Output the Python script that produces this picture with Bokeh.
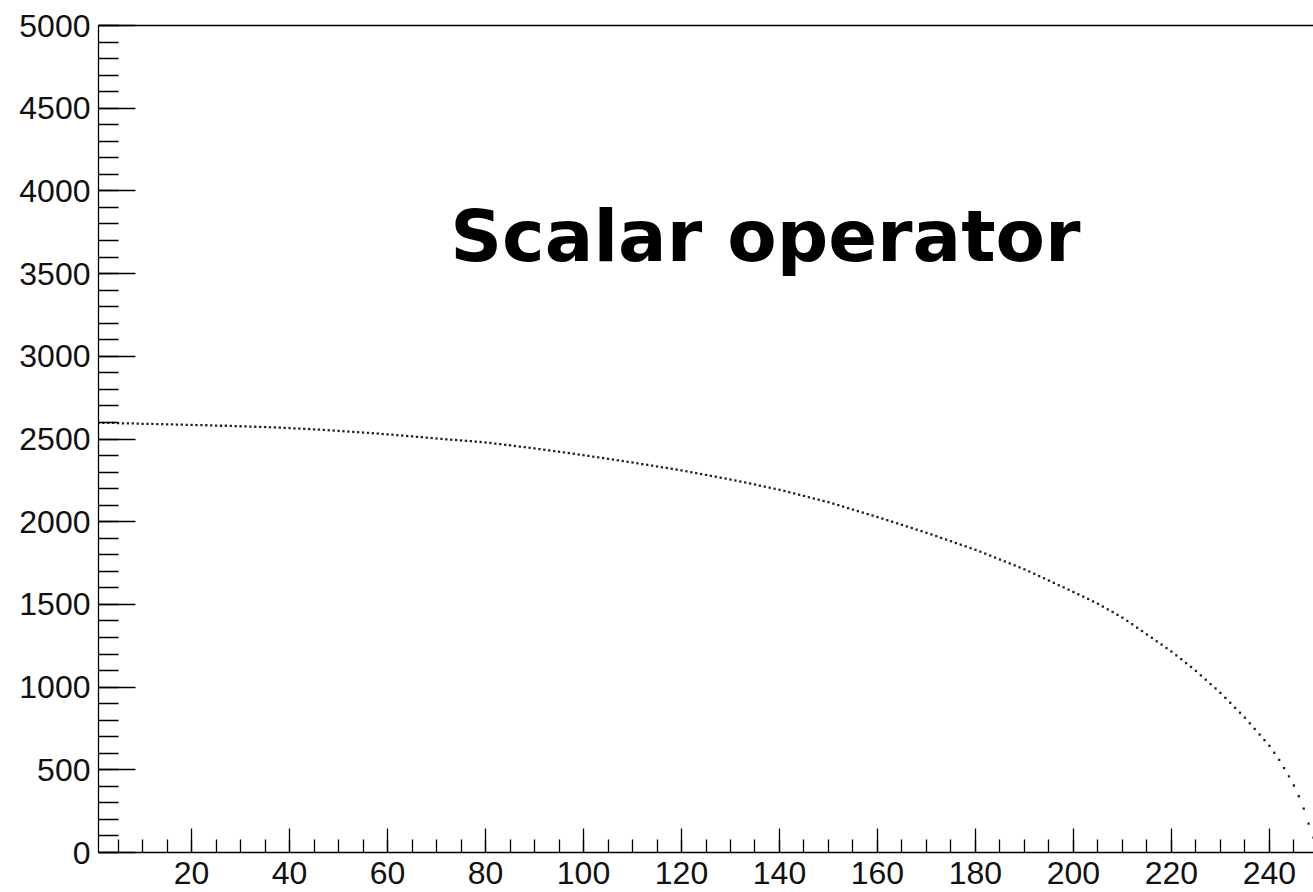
from bokeh.plotting import figure
from bokeh.models import Range1d, SingleIntervalTicker, LinearAxis, FixedTicker, Label
from bokeh.embed import file_html
from bokeh.resources import INLINE

# ---- data ----
bins = list(range(1, 250))
counts = [
    2598, 2598, 2597, 2597, 2596, 2595, 2595, 2594, 2593, 2592,
    2592, 2591, 2590, 2590, 2589, 2588, 2587, 2587, 2586, 2585,
    2584, 2584, 2583, 2582, 2581, 2580, 2580, 2579, 2578, 2577,
    2576, 2575, 2574, 2573, 2572, 2571, 2570, 2569, 2567, 2566,
    2564, 2563, 2561, 2560, 2558, 2557, 2555, 2553, 2551, 2549,
    2547, 2545, 2543, 2541, 2539, 2537, 2535, 2533, 2530, 2528,
    2526, 2523, 2521, 2518, 2516, 2513, 2511, 2508, 2506, 2503,
    2501, 2498, 2496, 2494, 2491, 2489, 2487, 2484, 2482, 2479,
    2476, 2472, 2469, 2465, 2462, 2458, 2454, 2451, 2447, 2443,
    2439, 2435, 2431, 2427, 2423, 2419, 2415, 2411, 2406, 2402,
    2398, 2393, 2389, 2385, 2380, 2376, 2371, 2367, 2362, 2358,
    2353, 2348, 2344, 2339, 2334, 2329, 2325, 2320, 2315, 2310,
    2305, 2299, 2294, 2288, 2283, 2277, 2272, 2266, 2261, 2255,
    2249, 2243, 2237, 2231, 2225, 2218, 2212, 2206, 2199, 2193,
    2186, 2178, 2171, 2163, 2156, 2148, 2140, 2133, 2125, 2118,
    2109, 2100, 2091, 2082, 2073, 2064, 2055, 2046, 2037, 2028,
    2019, 2009, 2000, 1990, 1981, 1971, 1962, 1952, 1943, 1933,
    1923, 1913, 1902, 1892, 1882, 1871, 1861, 1851, 1840, 1830,
    1819, 1807, 1795, 1783, 1771, 1760, 1748, 1736, 1724, 1712,
    1699, 1685, 1671, 1658, 1644, 1630, 1616, 1603, 1589, 1575,
    1561, 1547, 1533, 1518, 1504, 1487, 1470, 1454, 1437, 1420,
    1400, 1380, 1359, 1339, 1318, 1298, 1277, 1257, 1236, 1215,
    1192, 1169, 1145, 1122, 1098, 1071, 1045, 1018, 992, 965,
    935, 905, 875, 845, 815, 781, 747, 713, 679, 645,
    603, 560, 510, 460, 405, 340, 265, 175, 90,
]
title_text = "Scalar operator"

# ---- figure ----
p = figure(width=1313, height=892, output_backend="svg", toolbar_location=None,
           x_range=Range1d(1.0, 249.0), y_range=Range1d(0, 5000),
           min_border_left=98, min_border_right=0, min_border_top=25, min_border_bottom=40,
           x_axis_type=None, y_axis_type=None)
p.outline_line_color = None
p.grid.visible = False
p.background_fill_color = "white"
p.border_fill_color = "white"

label_font = "Liberation Sans"
fs = "32px"

xaxis = LinearAxis(ticker=SingleIntervalTicker(interval=20, num_minor_ticks=4))
yaxis = LinearAxis(ticker=SingleIntervalTicker(interval=500, num_minor_ticks=5))
for ax in (xaxis, yaxis):
    ax.axis_line_color = "black"
    ax.axis_line_width = 1.3
    ax.major_tick_line_color = "black"
    ax.major_tick_line_width = 1.3
    ax.minor_tick_line_color = "black"
    ax.minor_tick_line_width = 1.3
    ax.major_tick_out = 0
    ax.minor_tick_out = 0
    ax.major_label_text_font = label_font
    ax.major_label_text_font_size = fs
    ax.major_label_text_color = "#111111"
xaxis.major_tick_in = 24
xaxis.minor_tick_in = 13
xaxis.major_label_standoff = 9
yaxis.major_tick_in = 37
yaxis.minor_tick_in = 20
yaxis.major_label_standoff = 8
p.add_layout(xaxis, "below")
p.add_layout(yaxis, "left")

top = LinearAxis(ticker=FixedTicker(ticks=[]))
top.axis_line_color = "black"
top.axis_line_width = 1.3
top.major_label_text_font_size = "0px"
top.major_tick_line_color = None
top.minor_tick_line_color = None
p.add_layout(top, "above")

p.scatter(x=bins, y=counts, marker="square", size=2.3, color="#222222", line_color=None)

p.add_layout(Label(x=72.8, y=3728, text=title_text, text_font="DejaVu Sans",
                   text_font_style="bold", text_font_size="72px", text_color="black",
                   text_baseline="alphabetic", text_align="left"))

open("out.html", "w").write(file_html(p, INLINE))
